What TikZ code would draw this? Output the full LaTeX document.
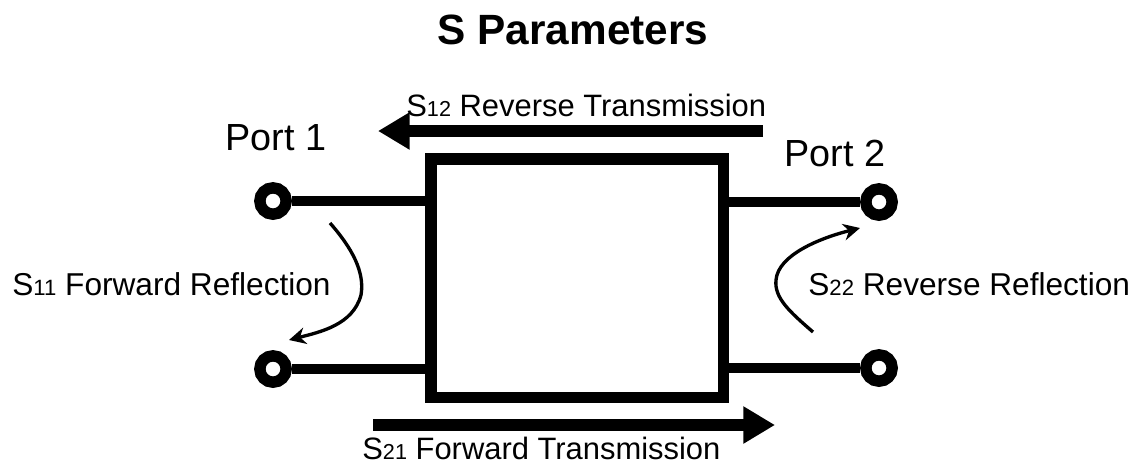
\documentclass[tikz,border=0pt]{standalone}
\usepackage{fontspec}
\setmainfont{Liberation Sans}
\usetikzlibrary{arrows.meta}
\newcommand{\sparam}[1]{S\scalebox{0.7}{#1}}

\begin{document}
\begin{tikzpicture}[x=0.02cm,y=-0.02cm,
    term/.style={circle,draw,line width=6.5pt,fill=white,minimum size=15pt,inner sep=0pt},
    wire/.style={line width=6.2pt},
    bigarrow/.style={line width=6.8pt,-{Triangle[length=18pt,width=20pt]}},
    reflarrow/.style={line width=1.9pt,-{Stealth[length=9.5pt,width=9.5pt]}},
    lbl/.style={inner sep=0pt,anchor=base west}]
\useasboundingbox (0,0) rectangle (1135,464);

% two-port box and its wires
\node[draw,line width=6.8pt,minimum width=5.86cm,minimum height=4.77cm] (box) at (577,278.25) {};
\node[term] (p1a) at (273,201) {};
\node[term] (p1b) at (273,369) {};
\node[term] (p2a) at (879,202) {};
\node[term] (p2b) at (879,368) {};
\draw[wire] (p1a) -- (p1a -| box.west);
\draw[wire] (p1b) -- (p1b -| box.west);
\draw[wire] (p2a) -- (p2a -| box.east);
\draw[wire] (p2b) -- (p2b -| box.east);

% labels
\node[inner sep=0pt,anchor=base,font=\bfseries\fontsize{24.1}{29}\selectfont] (title) at (573,44) {S Parameters};
\node[lbl,font=\fontsize{21.5}{26}\selectfont] (port1) at (225,150) {Port 1};
\node[lbl,font=\fontsize{21.5}{26}\selectfont] (port2) at (784,166) {Port 2};
\node[lbl,font=\fontsize{17.6}{21}\selectfont] (s12) at (406,116) {\sparam{12} Reverse Transmission};
\node[lbl,font=\fontsize{17.6}{21}\selectfont] (s21) at (362,459) {\sparam{21} Forward Transmission};
\node[lbl,font=\fontsize{18}{22}\selectfont] (s11) at (12,295) {\sparam{11} Forward Reflection};
\node[lbl,font=\fontsize{18}{22}\selectfont] (s22) at (808,295) {\sparam{22} Reverse Reflection};

% transmission arrows
\coordinate (revfrom) at (763,131);
\coordinate (revto) at (378,131);
\coordinate (fwdfrom) at (373,425);
\coordinate (fwdto) at (775,425);
\draw[bigarrow] (revfrom) -- (revto);
\draw[bigarrow] (fwdfrom) -- (fwdto);

% reflection arrows
\coordinate (r1from) at (330,223);
\coordinate (r1to) at (289,340);
\coordinate (r2from) at (813,332);
\coordinate (r2to) at (860,228);
\draw[reflarrow] (r1from) .. controls (352,248) and (365,272) .. (361,295)
    .. controls (353,325) and (320,332) .. (r1to);
\draw[reflarrow] (r2from) .. controls (790,312) and (774,298) .. (776,280)
    .. controls (778,255) and (820,238) .. (r2to);
\end{tikzpicture}
\end{document}
